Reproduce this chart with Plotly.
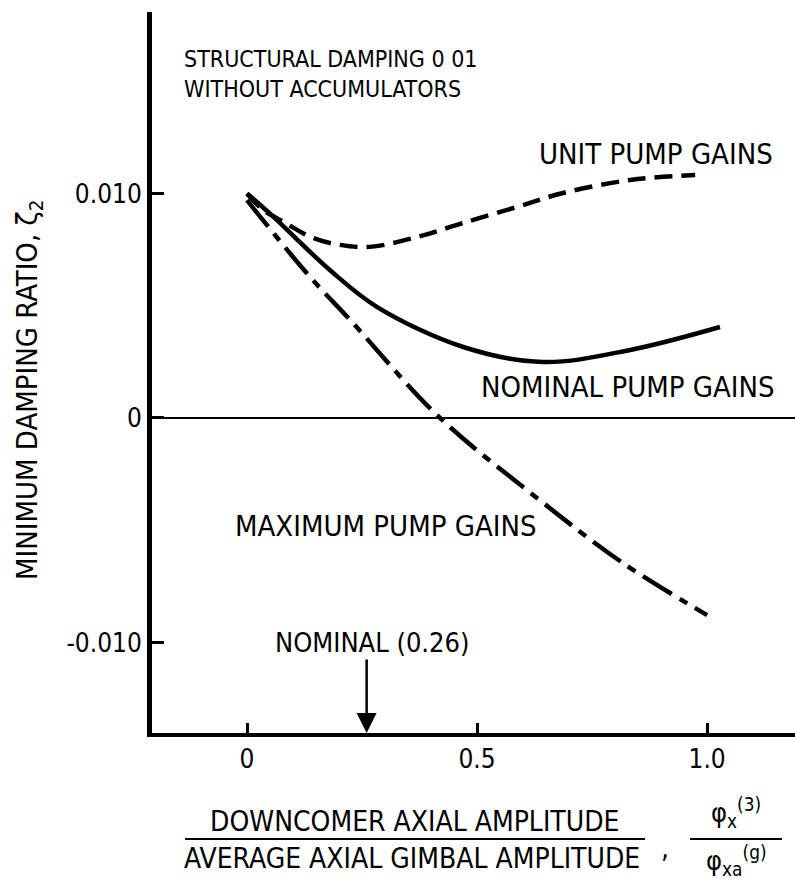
import plotly.graph_objects as go

# Amplitude ratio (downcomer / gimbal)
x_unit = [0.0, 0.035, 0.083, 0.143, 0.202, 0.267, 0.370, 0.470, 0.587, 0.687, 0.833, 0.974]
y_unit = [0.0100, 0.00927, 0.00869, 0.00802, 0.00771, 0.00762, 0.00806, 0.00869, 0.00940, 0.01002, 0.01060, 0.01082]

x_nominal = [0.0, 0.05, 0.18, 0.283, 0.47, 0.643, 0.833, 1.028]
y_nominal = [0.0100, 0.0091, 0.00659, 0.00494, 0.00316, 0.00249, 0.00303, 0.00405]

x_maximum = [0.0, 0.035, 0.137, 0.224, 0.413, 0.630, 0.817, 1.0]
y_maximum = [0.0097, 0.0088, 0.00628, 0.00437, 0.00013, -0.00356, -0.00646, -0.00878]

x_ticks = [0.0, 0.5, 1.0]
x_tick_text = ["0", "0.5", "1.0"]
y_ticks = [-0.010, 0.0, 0.010]
y_tick_text = ["-0.010", "0", "0.010"]

nominal_ratio = 0.26

X_RANGE = [-0.2065, 1.191]
Y_RANGE = [-0.01403, 0.01808]

W, H = 795, 879
ML, MR, MT, MB = 152, 0, 12, 146
PW, PH = W - ML - MR, H - MT - MB

FONT = "DejaVu Sans Condensed, Liberation Sans Narrow, sans-serif"


def px(xp):
    return (xp - ML) / PW


def py(yp):
    return (H - MB - yp) / PH


def font(size):
    return dict(family=FONT, size=size, color="black")


fig = go.Figure()

line_style = dict(color="black", width=4.5, shape="spline", smoothing=1.0)

fig.add_trace(go.Scatter(x=x_unit, y=y_unit, mode="lines",
                         line=dict(line_style, dash="18px,9px"), name="Unit pump gains"))
fig.add_trace(go.Scatter(x=x_nominal, y=y_nominal, mode="lines",
                         line=line_style, name="Nominal pump gains"))
fig.add_trace(go.Scatter(x=x_maximum, y=y_maximum, mode="lines",
                         line=dict(line_style, dash="34px,9px,9px,9px"), name="Maximum pump gains"))

center = dict(xanchor="center", yanchor="middle", showarrow=False)

annotations = [
    dict(x=-0.141, y=0.01532, xref="x", yref="y", xanchor="left", yanchor="middle", align="left",
         text="STRUCTURAL DAMPING 0 01<br>WITHOUT ACCUMULATORS", showarrow=False, font=font(23)),
    dict(center, x=0.889, y=0.01176, xref="x", yref="y", text="UNIT PUMP GAINS", font=font(29)),
    dict(center, x=0.828, y=0.00138, xref="x", yref="y", text="NOMINAL PUMP GAINS", font=font(29)),
    dict(center, x=0.302, y=-0.00481, xref="x", yref="y", text="MAXIMUM PUMP GAINS", font=font(29)),
    dict(center, x=0.272, y=-0.01002, xref="x", yref="y", text="NOMINAL (0.26)", font=font(27)),
    dict(x=nominal_ratio, y=Y_RANGE[0], xref="x", yref="y", text="", showarrow=True,
         ax=0, ay=-75, arrowhead=2, arrowsize=1.6, arrowwidth=2.5, arrowcolor="black"),
    # y-axis title
    dict(center, x=px(29), y=py(390), xref="paper", yref="paper", textangle=-90,
         text="MINIMUM DAMPING RATIO, \u03b6<sub>2</sub>", font=font(29)),
    # x-axis title as a fraction
    dict(center, x=px(414), y=py(821), xref="paper", yref="paper",
         text="DOWNCOMER AXIAL AMPLITUDE", font=font(28)),
    dict(center, x=px(412), y=py(858), xref="paper", yref="paper",
         text="AVERAGE AXIAL GIMBAL AMPLITUDE", font=font(28)),
    dict(center, x=px(665), y=py(848), xref="paper", yref="paper", text=",", font=font(28)),
    dict(center, x=px(736), y=py(812), xref="paper", yref="paper",
         text="\u03c6<sub>x</sub><sup>(3)</sup>", font=font(27)),
    dict(center, x=px(736), y=py(860), xref="paper", yref="paper",
         text="\u03c6<sub>xa</sub><sup>(g)</sup>", font=font(27)),
]

shapes = [
    dict(type="line", xref="paper", yref="paper", x0=px(185), x1=px(645), y0=py(839), y1=py(839),
         line=dict(color="black", width=2)),
    dict(type="line", xref="paper", yref="paper", x0=px(690), x1=px(782), y0=py(839), y1=py(839),
         line=dict(color="black", width=2)),
]

fig.update_layout(
    width=W, height=H,
    margin=dict(l=ML, r=MR, t=MT, b=MB),
    paper_bgcolor="white", plot_bgcolor="white",
    showlegend=False,
    font=dict(family=FONT, color="black"),
    annotations=annotations,
    shapes=shapes,
    xaxis=dict(range=X_RANGE, tickvals=x_ticks, ticktext=x_tick_text,
               ticks="inside", ticklen=10, tickwidth=3, tickcolor="black",
               showline=True, linewidth=4, linecolor="black",
               showgrid=False, zeroline=False,
               tickfont=font(26)),
    yaxis=dict(range=Y_RANGE, tickvals=y_ticks, ticktext=y_tick_text,
               ticks="inside", ticklen=12, tickwidth=3, tickcolor="black",
               showline=True, linewidth=5, linecolor="black",
               showgrid=False, zeroline=True, zerolinewidth=2, zerolinecolor="black",
               tickfont=font(26)),
)

fig.write_html("out.html")
